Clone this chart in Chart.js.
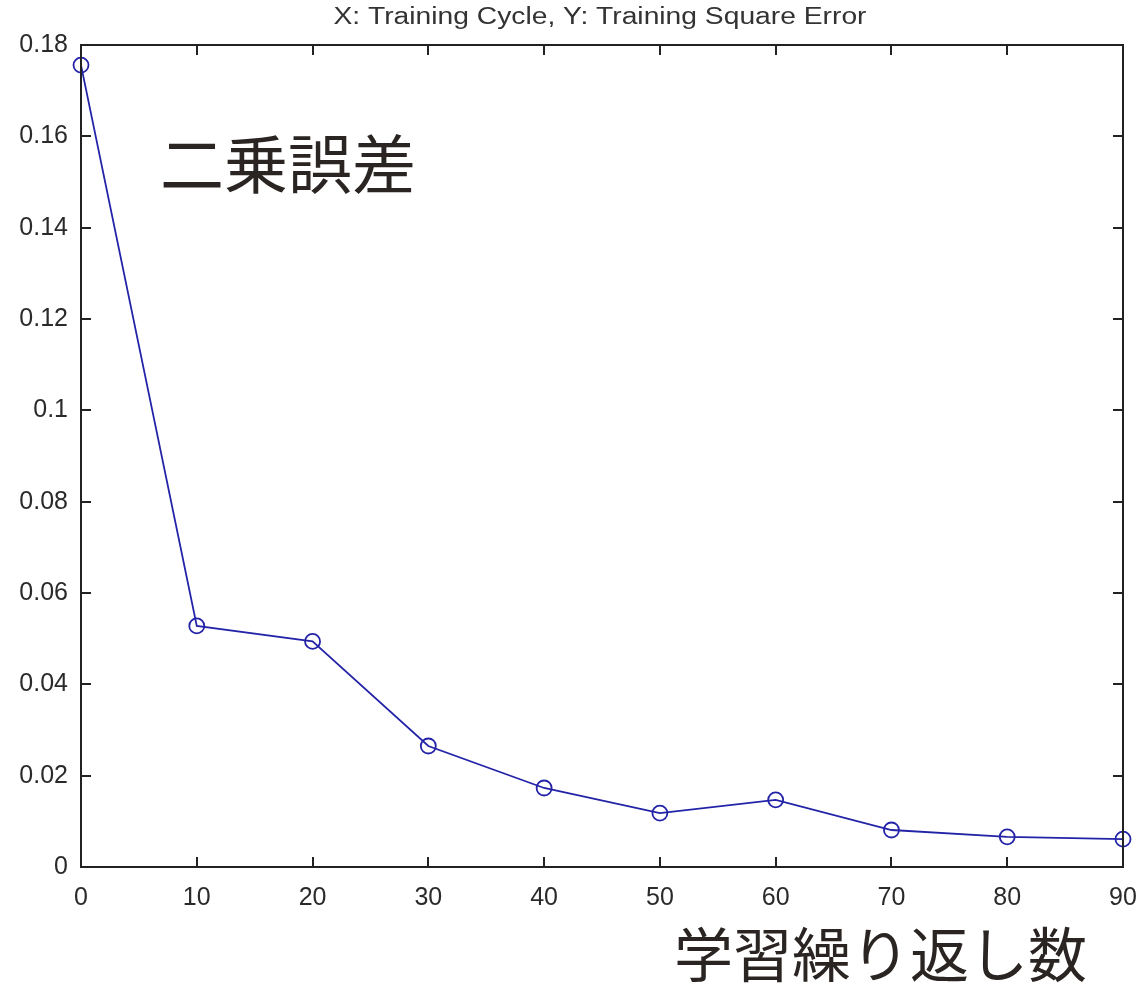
<!DOCTYPE html>
<html><head><meta charset="utf-8">
<script src="https://cdn.jsdelivr.net/npm/chart.js@4/dist/chart.umd.min.js"></script>
<style>html,body{margin:0;padding:0;background:#fff}#wrap{width:1138px;height:984px}</style>
</head><body><div id="wrap"><canvas id="c" width="1138" height="984"></canvas></div>
<script>
const cycles = [0, 10, 20, 30, 40, 50, 60, 70, 80, 90];
const squareError = [0.1756, 0.0528, 0.0494, 0.0265, 0.0173, 0.0118, 0.0147, 0.0081, 0.0066, 0.0061];
const xTicks = [0, 10, 20, 30, 40, 50, 60, 70, 80, 90];
const yTicks = [0, 0.02, 0.04, 0.06, 0.08, 0.1, 0.12, 0.14, 0.16, 0.18];
const titleText = 'X: Training Cycle, Y: Training Square Error';
const yNote = '二乗誤差';
const xNote = '学習繰り返し数';

const frame = {
  id: 'frame',
  afterDraw(chart) {
    const {ctx, chartArea: a, scales: {x, y}} = chart;
    ctx.save();
    ctx.strokeStyle = '#222';
    ctx.lineWidth = 2;
    ctx.strokeRect(a.left, a.top, a.right - a.left, a.bottom - a.top);
    ctx.beginPath();
    const L = 10;
    xTicks.forEach(v => {
      const px = Math.round(x.getPixelForValue(v));
      ctx.moveTo(px, a.bottom); ctx.lineTo(px, a.bottom - L);
      ctx.moveTo(px, a.top); ctx.lineTo(px, a.top + L);
    });
    yTicks.forEach(v => {
      const py = Math.round(y.getPixelForValue(v));
      ctx.moveTo(a.left, py); ctx.lineTo(a.left + L, py);
      ctx.moveTo(a.right, py); ctx.lineTo(a.right - L, py);
    });
    ctx.stroke();
    // title (stretched horizontally like the wide bitmap font of the reference)
    ctx.fillStyle = '#333';
    ctx.font = '23px "Liberation Sans", Arial, sans-serif';
    ctx.textAlign = 'center';
    ctx.textBaseline = 'middle';
    const w = ctx.measureText(titleText).width;
    const sx = 533 / w;
    ctx.save();
    ctx.translate(600, 18);
    ctx.scale(sx, 1);
    ctx.fillText(titleText, 0, 0);
    ctx.restore();
    // Japanese notes
    ctx.fillStyle = '#2a2522';
    ctx.font = '64px "Noto Sans CJK JP", sans-serif';
    ctx.textAlign = 'left';
    ctx.fillText(yNote, 160, 164);
    ctx.font = '59px "Noto Sans CJK JP", sans-serif';
    ctx.fillText(xNote, 674, 955);
    ctx.restore();
  }
};

new Chart(document.getElementById('c'), {
  type: 'line',
  data: {
    datasets: [{
      data: cycles.map((c, i) => ({x: c, y: squareError[i]})),
      borderColor: '#2323a8',
      borderWidth: 1.8,
      pointRadius: 7.5,
      pointBorderWidth: 1.8,
      pointBorderColor: '#2323a8',
      pointBackgroundColor: 'rgba(0,0,0,0)',
      fill: false,
      tension: 0,
      clip: false
    }]
  },
  options: {
    responsive: false,
    animation: false,
    events: [],
    layout: {padding: {top: 45, right: 15, left: 0, bottom: 0}},
    plugins: {legend: {display: false}, title: {display: false}, tooltip: {enabled: false}},
    scales: {
      x: {
        type: 'linear', min: 0, max: 90,
        afterBuildTicks: s => { s.ticks = xTicks.map(v => ({value: v})); },
        afterFit: s => { s.height = 117; s.paddingRight = 0; s.paddingLeft = 0; },
        grid: {display: false, drawTicks: false},
        border: {display: false},
        ticks: {padding: 16, color: '#2a2a2a', font: {family: '"Liberation Sans", Arial, sans-serif', size: 25}, maxRotation: 0, autoSkip: false}
      },
      y: {
        type: 'linear', min: 0, max: 0.18,
        afterBuildTicks: s => { s.ticks = yTicks.map(v => ({value: v})); },
        afterFit: s => { s.width = 81; s.paddingTop = 0; s.paddingBottom = 0; },
        grid: {display: false, drawTicks: false},
        border: {display: false},
        ticks: {padding: 13, color: '#2a2a2a', font: {family: '"Liberation Sans", Arial, sans-serif', size: 25},
          callback: v => String(+Number(v).toFixed(2))}
      }
    }
  },
  plugins: [frame]
});
</script></body></html>
